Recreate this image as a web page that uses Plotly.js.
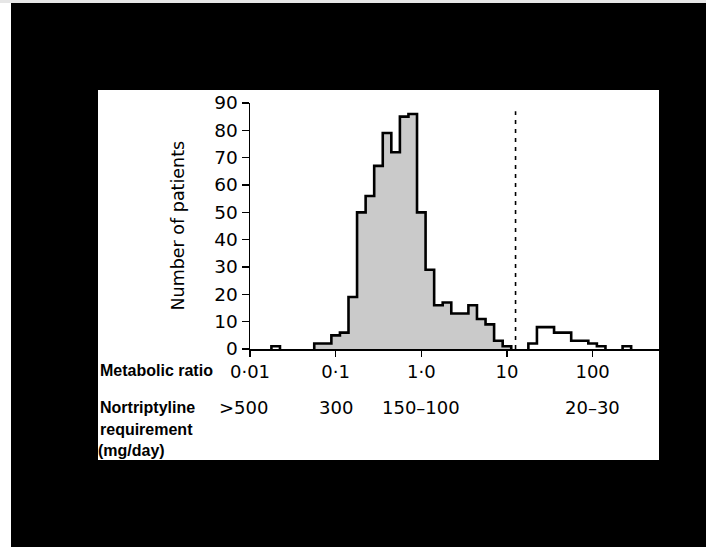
<!DOCTYPE html>
<html>
<head>
<meta charset="utf-8">
<script src="https://cdn.plot.ly/plotly-3.0.1.min.js"></script>
<style>
  html, body { margin: 0; padding: 0; background: #000; }
  #chart { width: 706px; height: 547px; }
</style>
</head>
<body>
<div id="chart"></div>
<script>
// ---- data ----
// histogram bins: centre of each bin as log10(metabolic ratio); bin width 0.1 decade
const binCentresLog = [-1.7, -1.2, -1.1, -1.0, -0.9, -0.8, -0.7, -0.6, -0.5, -0.4,
  -0.3, -0.2, -0.1, 0.0, 0.1, 0.2, 0.3, 0.4, 0.5, 0.6, 0.7, 0.8, 0.9, 1.0, 1.1,
  1.2, 1.3, 1.4, 1.5, 1.6, 1.7, 1.8, 1.9, 2.0, 2.1, 2.2, 2.3, 2.4];
const patientCounts = [1, 2, 2, 5, 6, 19, 50, 56, 67, 79,
  72, 85, 86, 50, 29, 16, 17, 13, 13, 16, 11, 9, 3, 1, 0,
  0, 2, 8, 8, 6, 6, 3, 3, 2, 1, 0, 0, 1];
const binWidthLog = 0.1;

// x axis: metabolic ratio ticks
const ratioTicks = [0.01, 0.1, 1, 10, 100];
const ratioTickLabels = ['0\u00b701', '0\u00b71', '1\u00b70', '10', '100'];

// nortriptyline requirement (mg/day) under given metabolic ratios
const requirementRatios = [0.01, 0.1, 1, 100];
const requirementLabels = ['>500', '300', '150\u2013100', '20\u201330'];

// antimode (dashed line)
const antimodeRatio = 12.6;
const antimodeTop = 87;

// y axis
const yTicks = [0, 10, 20, 30, 40, 50, 60, 70, 80, 90];

// ---- build step outlines from the bins ----
const log10 = Math.log10;
const runs = [];
let cur = null;
for (let i = 0; i < binCentresLog.length; i++) {
  const c = patientCounts[i];
  const adjacent = cur && Math.abs(binCentresLog[i] - binCentresLog[cur[cur.length - 1]] - binWidthLog) < 1e-6;
  if (c > 0) {
    if (cur && adjacent) cur.push(i);
    else { cur = [i]; runs.push(cur); }
  } else {
    cur = null;
  }
}
function runPath(run) {
  const xs = [], ys = [];
  const h = binWidthLog / 2;
  xs.push(binCentresLog[run[0]] - h); ys.push(0);
  run.forEach(i => {
    xs.push(binCentresLog[i] - h, binCentresLog[i] + h);
    ys.push(patientCounts[i], patientCounts[i]);
  });
  xs.push(binCentresLog[run[run.length - 1]] + h); ys.push(0);
  return {xs, ys};
}
const maxCount = Math.max(...patientCounts);
const modeIdx = patientCounts.indexOf(maxCount);
const modeRun = runs.find(r => r.includes(modeIdx));

const outX = [], outY = [];
runs.forEach(r => {
  const p = runPath(r);
  outX.push(...p.xs, null); outY.push(...p.ys, null);
});
const fillPath = runPath(modeRun);

const FONT = 'DejaVu Sans, Verdana, sans-serif';
const BOLD = 'Liberation Sans, Arial, sans-serif';

const traces = [
  { x: fillPath.xs, y: fillPath.ys, type: 'scatter', mode: 'lines', fill: 'toself',
    fillcolor: '#cacaca', line: {width: 0, color: 'rgba(0,0,0,0)'}, hoverinfo: 'skip' },
  { x: outX, y: outY, type: 'scatter', mode: 'lines', connectgaps: false,
    line: {color: '#000', width: 2.6}, hoverinfo: 'skip' },
  { x: [log10(antimodeRatio), log10(antimodeRatio)], y: [0, antimodeTop], type: 'scatter', mode: 'lines',
    line: {color: '#000', width: 1.6, dash: '4px,5px'}, hoverinfo: 'skip' }
];

// ---- layout geometry (pixels) ----
const W = 706, H = 547;
const plotL = 250, plotR = 660, plotT = 103, plotB = 349;
const pw = plotR - plotL, ph = plotB - plotT;
const px = v => (v - plotL) / pw;          // pixel x -> paper
const py = v => (plotB - v) / ph;          // pixel y -> paper
const panel = {l: 98, r: 659, t: 90, b: 460};

const boldFont = {family: BOLD, size: 16, color: '#000', weight: 'bold'};
const annotations = [
  { text: 'Number of patients', xref: 'paper', yref: 'paper', x: px(177.5), y: py(226),
    xanchor: 'center', yanchor: 'middle', textangle: -90, showarrow: false,
    font: {family: FONT, size: 17.5, color: '#000'} },
  { text: 'Metabolic ratio', xref: 'paper', yref: 'paper', x: px(98), y: py(370),
    xanchor: 'left', yanchor: 'middle', showarrow: false, font: boldFont },
  { text: 'Nortriptyline', xref: 'paper', yref: 'paper', x: px(98), y: py(407),
    xanchor: 'left', yanchor: 'middle', showarrow: false, font: boldFont },
  { text: 'requirement', xref: 'paper', yref: 'paper', x: px(98), y: py(429),
    xanchor: 'left', yanchor: 'middle', showarrow: false, font: boldFont },
  { text: '(mg/day)', xref: 'paper', yref: 'paper', x: px(96), y: py(450),
    xanchor: 'left', yanchor: 'middle', showarrow: false, font: boldFont }
];
requirementRatios.forEach((r, i) => {
  annotations.push({
    text: requirementLabels[i], xref: 'x', yref: 'paper', x: log10(r), y: py(407),
    xanchor: 'center', yanchor: 'middle', showarrow: false,
    xshift: requirementLabels[i].startsWith('>') ? -7 : 0,
    font: {family: FONT, size: 18, color: '#000'}
  });
});

const layout = {
  width: W, height: H,
  paper_bgcolor: '#000', plot_bgcolor: 'rgba(0,0,0,0)',
  margin: {l: plotL, r: W - plotR, t: plotT, b: H - plotB, pad: 0},
  showlegend: false,
  xaxis: {
    range: [-2, -2 + (plotR - plotL) / 85.65], tickmode: 'array',
    tickvals: ratioTicks.map(log10), ticktext: ratioTickLabels,
    ticks: 'outside', ticklen: 6, tickwidth: 1.5, tickcolor: '#000',
    showline: true, linecolor: '#000', linewidth: 1.5,
    showgrid: false, zeroline: false, fixedrange: true,
    tickfont: {family: FONT, size: 18, color: '#000'}
  },
  yaxis: {
    range: [0, 90], tickmode: 'array', tickvals: yTicks,
    ticks: 'outside', ticklen: 7, tickwidth: 1.5, tickcolor: '#000',
    showline: true, linecolor: '#000', linewidth: 1.5,
    showgrid: false, zeroline: false, fixedrange: true,
    tickfont: {family: FONT, size: 18.5, color: '#000'}
  },
  shapes: [
    // scanned white panel
    { type: 'rect', xref: 'paper', yref: 'paper', layer: 'below',
      x0: px(panel.l), x1: px(panel.r), y0: py(panel.b), y1: py(panel.t),
      fillcolor: '#fff', line: {width: 0} },
    // scan margins (light strips at left and top edges)
    { type: 'rect', xref: 'paper', yref: 'paper', layer: 'below',
      x0: px(0), x1: px(11), y0: py(H), y1: py(0),
      fillcolor: '#fff', line: {width: 0} },
    { type: 'rect', xref: 'paper', yref: 'paper', layer: 'below',
      x0: px(0), x1: px(W), y0: py(3), y1: py(0),
      fillcolor: '#e6e6e6', line: {width: 0} }
  ],
  annotations: annotations
};

Plotly.newPlot('chart', traces, layout, {staticPlot: true, displayModeBar: false});
</script>
</body>
</html>
